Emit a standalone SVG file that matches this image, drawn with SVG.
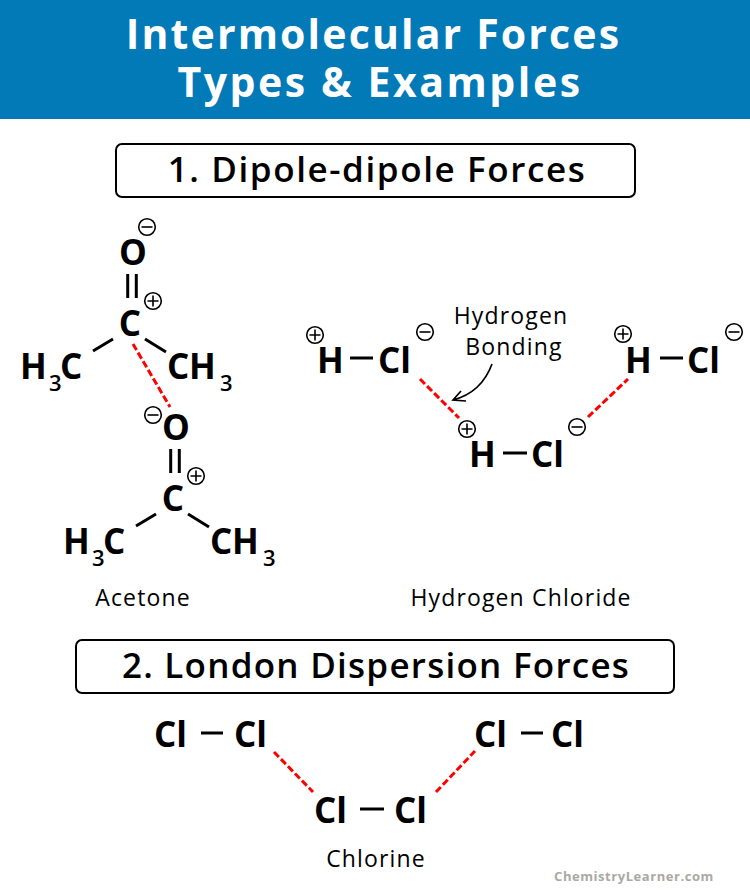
<svg xmlns="http://www.w3.org/2000/svg" width="750" height="892" viewBox="0 0 750 892">
<style>
text{font-family:"Open Sans","Noto Sans",sans-serif;fill:#000}
.title{font-size:41px;font-weight:700;fill:#fff;text-anchor:middle}
.head{font-size:35px;font-weight:600;text-anchor:middle}
.box{fill:#fff;stroke:#000;stroke-width:2}
.atom{font-size:35px;font-weight:700}
.sub{font-size:22px;font-weight:600}
.label{font-size:23px;text-anchor:middle;letter-spacing:1.15px}
.bond{stroke:#000;stroke-width:3;fill:none}
.force{stroke:#f00;stroke-width:3;stroke-dasharray:7 3;fill:none}
.ring{fill:#fff;stroke:#000;stroke-width:1.6}
.sign{stroke:#000;stroke-width:1.6;fill:none}
.thin{stroke:#000;stroke-width:1.7;fill:none}
</style>
<defs>
<g id="plus"><circle class="ring" r="8.300"/><path class="sign" d="M-5.500 0H5.500M0-5.500V5.500"/></g>
<g id="minus"><circle class="ring" r="8.300"/><path class="sign" d="M-5.500 0H5.500"/></g>
</defs>
<g id="header">
<rect width="750" height="119" fill="#027ab8"/>
<text class="title" x="373.500" y="49" letter-spacing="2.150">Intermolecular Forces</text>
<text class="title" x="380" y="97" letter-spacing="2.550">Types &amp; Examples</text>
</g>
<g id="heading-1">
<rect class="box" x="116" y="144" width="519" height="53" rx="6"/>
<text class="head" x="377" y="182" letter-spacing="1.600">1. Dipole-dipole Forces</text>
</g>
<g id="connectors">
<path class="force" d="M133 344L170 407"/>
<path class="force" d="M420 379L459 418"/>
<path class="force" d="M588 417L628 379"/>
<path class="force" d="M274 752L313 792"/>
<path class="force" d="M436 792L475 751"/>
<path class="thin" d="M492 364C485 383 472 395 453 400M461 391L453 400L466 401"/>
</g>
<g id="acetone-1">
<text class="atom" x="133" y="265" text-anchor="middle">O</text>
<text class="atom" x="130" y="336" text-anchor="middle">C</text>
<text class="atom" x="20" y="379">H</text><text class="sub" x="49" y="391">3</text><text class="atom" x="60" y="379">C</text>
<text class="atom" x="167" y="379">C</text><text class="atom" x="189" y="379">H</text><text class="sub" x="220" y="391">3</text>
<path class="bond" d="M127.700 274V298M136.300 274V298M93 351L113 339M145 339L166 352"/>
<use href="#minus" x="147" y="227"/><use href="#plus" x="153" y="301"/>
</g>
<g id="acetone-2">
<text class="atom" x="176" y="440" text-anchor="middle">O</text>
<text class="atom" x="173" y="511" text-anchor="middle">C</text>
<text class="atom" x="63" y="554">H</text><text class="sub" x="92" y="566">3</text><text class="atom" x="103" y="554">C</text>
<text class="atom" x="210" y="554">C</text><text class="atom" x="232" y="554">H</text><text class="sub" x="263" y="566">3</text>
<path class="bond" d="M170.700 449V473M179.300 449V473M136 526L156 514M188 514L209 527"/>
<use href="#minus" x="153" y="415"/><use href="#plus" x="196" y="476"/>
</g>
<g id="acetone-label"><text class="label" x="143" y="606">Acetone</text></g>
<g id="hcl-1">
<text class="atom" x="317" y="373">H</text><text class="atom" x="378" y="373">Cl</text>
<path class="bond" d="M350 358H373"/>
<use href="#plus" x="315" y="335"/><use href="#minus" x="425" y="332"/>
</g>
<g id="hcl-2">
<text class="atom" x="469" y="467">H</text><text class="atom" x="531" y="467">Cl</text>
<path class="bond" d="M503 453H527"/>
<use href="#plus" x="467" y="429"/><use href="#minus" x="577" y="427"/>
</g>
<g id="hcl-3">
<text class="atom" x="625" y="373">H</text><text class="atom" x="687" y="373">Cl</text>
<path class="bond" d="M660 358H683"/>
<use href="#plus" x="623" y="334"/><use href="#minus" x="734" y="332"/>
</g>
<g id="bonding-label">
<text class="label" x="511" y="324">Hydrogen</text>
<text class="label" x="514" y="355">Bonding</text>
</g>
<g id="hcl-label"><text class="label" x="521" y="606">Hydrogen Chloride</text></g>
<g id="heading-2">
<rect class="box" x="76" y="640" width="598" height="53" rx="6"/>
<text class="head" x="376" y="678" letter-spacing="1.250">2. London Dispersion Forces</text>
</g>
<g id="cl2-1">
<text class="atom" x="154" y="747">Cl</text><text class="atom" x="234" y="747">Cl</text>
<path class="bond" d="M201 733H223"/>
</g>
<g id="cl2-2">
<text class="atom" x="474" y="747">Cl</text><text class="atom" x="551" y="747">Cl</text>
<path class="bond" d="M521 733H543"/>
</g>
<g id="cl2-3">
<text class="atom" x="314" y="823">Cl</text><text class="atom" x="394" y="823">Cl</text>
<path class="bond" d="M360 809H384"/>
</g>
<g id="chlorine-label"><text class="label" x="376" y="867">Chlorine</text></g>
<g id="watermark"><text x="634" y="881" text-anchor="middle" style="font-size:13px;font-weight:700;fill:#a9a9a2;letter-spacing:.55px">ChemistryLearner.com</text></g>
</svg>
